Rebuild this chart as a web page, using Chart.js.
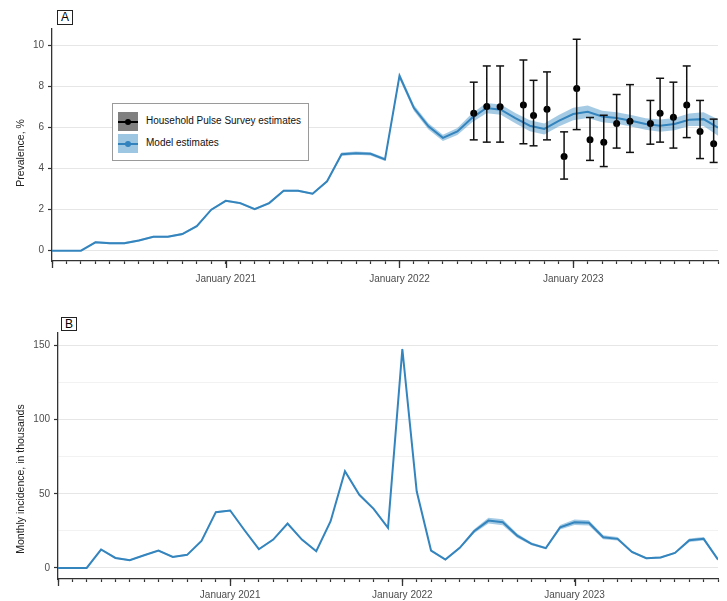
<!DOCTYPE html>
<html><head><meta charset="utf-8">
<script src="https://cdn.jsdelivr.net/npm/chart.js@4/dist/chart.umd.min.js"></script>
<style>
html,body{margin:0;padding:0;background:#fff;}
#wrap{position:relative;width:727px;height:601px;font-family:"Liberation Sans",Arial,sans-serif;overflow:hidden;}
.cv{position:absolute;left:0;}
.plabel{position:absolute;border:1px solid #222;font-size:12px;text-align:center;background:#fff;color:#000;box-sizing:border-box;}
.ytitle{position:absolute;font-size:10.5px;color:#222;white-space:nowrap;transform:translate(-50%,-50%) rotate(-90deg);}
#legend{position:absolute;left:112px;top:103px;width:197px;height:58px;border:1px solid #9a9a9a;background:#fff;font-size:10px;color:#111;box-sizing:border-box;}
.sw{position:absolute;left:5px;width:20px;height:19px;}
.sw .ln{position:absolute;left:0;right:0;top:9px;height:2px;}
.sw .dt{position:absolute;left:7px;top:7px;width:6px;height:6px;border-radius:50%;}
.lt{position:absolute;left:33px;white-space:nowrap;line-height:12px;}
</style>
</head><body>
<div id="wrap">
  <canvas id="chartA" class="cv" style="top:0" width="727" height="300"></canvas>
  <canvas id="chartB" class="cv" style="top:300px" width="727" height="301"></canvas>
  <div class="plabel" style="left:57px;top:10px;width:16px;height:15px;line-height:13px;">A</div>
  <div class="plabel" style="left:61px;top:317px;width:16px;height:14px;line-height:12px;">B</div>
  <div class="ytitle" style="left:20px;top:153px;">Prevalence, %</div>
  <div class="ytitle" style="left:20px;top:479px;">Monthly incidence, in thousands</div>
  <div id="legend">
    <div class="sw" style="top:8px;background:#808080;"><div class="ln" style="background:#000"></div><div class="dt" style="background:#000"></div></div>
    <div class="lt" style="top:11px;">Household Pulse Survey estimates</div>
    <div class="sw" style="top:30px;background:#9dc6e2;"><div class="ln" style="background:#3182bd"></div><div class="dt" style="background:#3182bd"></div></div>
    <div class="lt" style="top:33px;">Model estimates</div>
  </div>
</div>
<script>
// ---- data ----
const monthIdx = [0,1,2,3,4,5,6,7,8,9,10,11,12,13,14,15,16,17,18,19,20,21,22,23,24,25,26,27,28,29,30,31,32,33,34,35,36,37,38,39,40,41,42,43,44,45,46];
const xLabelValues = [12,24,36];
const xLabels = ['January 2021','January 2022','January 2023'];
const xMajorTicks = [0,12,24,36];

const prevalence   = [0,0,0,0.41,0.37,0.37,0.5,0.68,0.68,0.81,1.2,2.0,2.43,2.32,2.03,2.32,2.92,2.92,2.78,3.38,4.7,4.75,4.72,4.45,8.52,6.95,6.06,5.5,5.81,6.46,6.95,6.87,6.46,6.09,5.93,6.33,6.66,6.77,6.54,6.46,6.33,6.17,6.09,6.17,6.38,6.41,6.0];
const prevalenceLo = [0,0,0,0.36,0.32,0.32,0.45,0.63,0.63,0.76,1.15,1.95,2.38,2.27,1.98,2.27,2.87,2.87,2.73,3.33,4.62,4.67,4.64,4.37,8.37,6.80,5.91,5.35,5.64,6.24,6.70,6.62,6.21,5.82,5.66,6.05,6.36,6.47,6.26,6.18,6.05,5.89,5.79,5.87,6.08,6.08,5.6];
const prevalenceHi = [0,0,0,0.46,0.42,0.42,0.55,0.73,0.73,0.86,1.25,2.05,2.48,2.37,2.08,2.37,2.97,2.97,2.83,3.43,4.78,4.83,4.80,4.53,8.67,7.10,6.21,5.65,5.98,6.68,7.20,7.12,6.71,6.36,6.20,6.61,6.96,7.07,6.82,6.74,6.61,6.45,6.39,6.47,6.68,6.74,6.4];

const hpsX   = [29.13,30.03,30.95,32.56,33.26,34.19,35.37,36.24,37.16,38.11,39.0,39.92,41.33,42.0,42.92,43.84,44.76,45.70];
const hpsEst = [6.70,7.02,7.01,7.1,6.59,6.89,4.59,7.9,5.4,5.29,6.2,6.31,6.2,6.7,6.5,7.1,5.81,5.21];
const hpsLo  = [5.40,5.29,5.29,5.21,5.11,5.40,3.49,5.9,4.4,4.1,5.0,4.79,5.19,5.29,5.0,5.51,4.49,4.30];
const hpsHi  = [8.21,9.0,9.0,9.29,8.3,8.71,5.79,10.3,6.49,6.6,7.61,8.09,7.32,8.4,8.21,9.0,7.32,6.41];

const incidence   = [0,0,0,12.4,6.7,5.2,8.5,11.7,7.4,8.8,18.2,37.6,38.7,25.4,12.6,19.1,29.9,19.1,11.2,31.5,65.2,49.3,39.8,27.0,147.7,51.7,11.7,5.6,13.5,24.7,31.9,30.8,21.8,16.2,13.3,27.4,30.8,30.4,20.7,19.6,10.8,6.5,7.0,10.1,18.7,19.6,5.6];
const incidenceLo = [0,0,0,11.8,6.1,4.6,7.9,11.1,6.8,8.2,17.6,37.0,38.1,24.8,12.0,18.5,29.3,18.5,10.6,30.9,64.6,48.7,39.2,26.4,146.5,50.7,11.0,4.9,12.8,23.3,29.9,28.8,20.4,15.2,12.5,25.9,29.0,28.6,19.4,18.4,10.0,5.9,6.4,9.5,17.5,18.4,5.0];
const incidenceHi = [0,0,0,13.0,7.3,5.8,9.1,12.3,8.0,9.4,18.8,38.2,39.3,26.0,13.2,19.7,30.5,19.7,11.8,32.1,65.8,49.9,40.4,27.6,148.9,52.7,12.4,6.3,14.2,26.1,33.9,32.8,23.2,17.2,14.1,28.9,32.6,32.2,22.0,20.8,11.6,7.1,7.6,10.7,19.9,20.8,6.2];

const prevTicks = [0,2,4,6,8,10];
const prevLabelTicks = [0,2,4,6,8,10];
const incTicks = [0,25,50,75,100,125,150];
const incLabelTicks = [0,50,100,150];

// ---- style ----
const FONT = '"Liberation Sans", Arial, sans-serif';
const LINE = '#3484be';
const BAND = 'rgba(66,146,198,0.48)';
const AXIS = '#333333';
const TXT = '#4d4d4d';

const majorTicks = {
  id:'majorTicks',
  afterDraw(chart){
    const s = chart.scales.x, ctx = chart.ctx;
    ctx.save(); ctx.strokeStyle = AXIS; ctx.lineWidth = 1.3;
    xMajorTicks.forEach(v => {
      const px = Math.round(s.getPixelForValue(v)) + 0.5;
      ctx.beginPath(); ctx.moveTo(px, s.top); ctx.lineTo(px, s.top + 7); ctx.stroke();
    });
    ctx.restore();
  }
};

function xy(xs, ys){ return xs.map((x,i)=>({x:x, y:ys[i]})); }

function makeOptions(o){
  return {
    responsive:false, animation:false, events:[],
    layout:{padding:{top:o.top, right:9, left:0, bottom:0}},
    plugins:{legend:{display:false}, tooltip:{enabled:false}},
    scales:{
      x:{
        type:'linear', min:0, max:46,
        afterBuildTicks: s => { s.ticks = monthIdx.map(v=>({value:v})); },
        afterFit: s => { s.height = o.xh; },
        grid:{display:true, drawOnChartArea:false, drawTicks:true, tickLength:3, tickColor:AXIS, tickWidth:1.2},
        border:{display:true, color:AXIS, width:1.3},
        ticks:{autoSkip:false, maxRotation:0, minRotation:0, padding:o.xpad, color:TXT, font:{family:FONT, size:10},
          callback: v => { const i = xLabelValues.indexOf(v); return i >= 0 ? xLabels[i] : ''; }}
      },
      y:{
        type:'linear', min:o.ymin, max:o.ymax,
        afterBuildTicks: s => { s.ticks = o.yt.map(v=>({value:v})); },
        afterFit: s => { s.width = o.yw; },
        grid:{
          color: c => o.yl.includes(c.tick.value) ? '#e6e6e6' : '#f2f2f2',
          lineWidth: 1,
          tickLength:4,
          tickColor: c => o.yl.includes(c.tick.value) ? AXIS : 'rgba(0,0,0,0)',
          tickWidth:1.2
        },
        border:{display:true, color:AXIS, width:1.3},
        ticks:{padding:4, color:TXT, font:{family:FONT, size:10},
          callback: v => o.yl.includes(v) ? String(v) : ''}
      }
    }
  };
}

// ---- Panel A ----
const whiskers = [];
hpsX.forEach((x,i)=>{ whiskers.push({x:x,y:hpsLo[i]}, {x:x,y:hpsHi[i]}, {x:x,y:null}); });
const caps = [];
hpsX.forEach((x,i)=>{ caps.push({x:x,y:hpsLo[i]}, {x:x,y:hpsHi[i]}); });

new Chart(document.getElementById('chartA'), {
  type:'line',
  data:{datasets:[
    {label:'whiskers', data:whiskers, borderColor:'#111', borderWidth:1.5, pointRadius:0, spanGaps:false, fill:false},
    {label:'caps', data:caps, showLine:false, pointStyle:'line', pointRadius:4, pointBorderWidth:1.5, pointBorderColor:'#111', pointBackgroundColor:'#111'},
    {label:'Household Pulse Survey estimates', data:xy(hpsX,hpsEst), showLine:false, pointRadius:3.5, pointBackgroundColor:'#000', pointBorderColor:'#000', pointBorderWidth:0},
    {label:'Model estimates', data:xy(monthIdx,prevalence), borderColor:LINE, borderWidth:2, pointRadius:0, tension:0, fill:false},
    {label:'lo', data:xy(monthIdx,prevalenceLo), borderWidth:0, borderColor:'rgba(0,0,0,0)', pointRadius:0, fill:false},
    {label:'hi', data:xy(monthIdx,prevalenceHi), borderWidth:0, borderColor:'rgba(0,0,0,0)', pointRadius:0, fill:'-1', backgroundColor:BAND}
  ]},
  options: makeOptions({top:29, xh:39, xpad:9, yw:52, ymin:-0.5, ymax:10.8, yt:prevTicks, yl:prevLabelTicks}),
  plugins:[majorTicks]
});

// ---- Panel B ----
new Chart(document.getElementById('chartB'), {
  type:'line',
  data:{datasets:[
    {label:'Model estimates', data:xy(monthIdx,incidence), borderColor:LINE, borderWidth:2, pointRadius:0, tension:0, fill:false},
    {label:'lo', data:xy(monthIdx,incidenceLo), borderWidth:0, borderColor:'rgba(0,0,0,0)', pointRadius:0, fill:false},
    {label:'hi', data:xy(monthIdx,incidenceHi), borderWidth:0, borderColor:'rgba(0,0,0,0)', pointRadius:0, fill:'-1', backgroundColor:BAND}
  ]},
  options: makeOptions({top:33, xh:22, xpad:7, yw:58, ymin:-7.5, ymax:158.5, yt:incTicks, yl:incLabelTicks}),
  plugins:[majorTicks]
});
</script>
</body></html>
